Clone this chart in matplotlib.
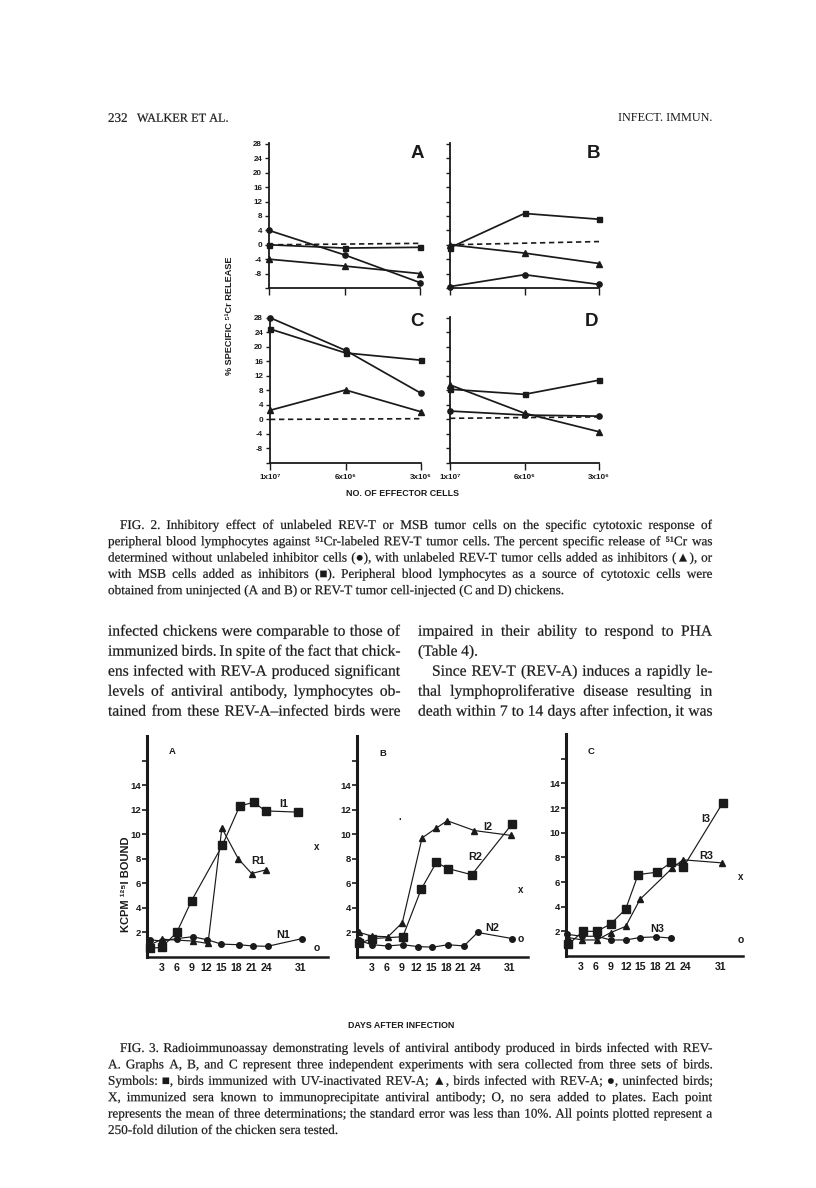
import matplotlib
matplotlib.use('Agg')
import matplotlib.pyplot as plt
from matplotlib.transforms import IdentityTransform, Affine2D
from matplotlib.textpath import TextPath
from matplotlib.patches import PathPatch
from matplotlib.font_manager import FontProperties

W, H = 816, 1188
INK = '#1a1a1a'
SERIF = ['Liberation Serif', 'DejaVu Sans']
SANS = ['Liberation Sans', 'DejaVu Sans']

# ---------------- Fig. 2 data ----------------
fig2_positions = [0, 1, 2]
fig2_xticklabels = ['1x10⁷', '6x10⁶', '3x10⁶']
fig2_yticks = [-12, -8, -4, 0, 4, 8, 12, 16, 20, 24, 28]
fig2_yticklabels = ['', '-8', '-4', '0', '4', '8', '12', '16', '20', '24', '28']
fig2_dash_x = [0, 2]

a_circles = [4.0, -2.8, -10.5]
a_triangles = [-4.0, -5.9, -8.0]
a_squares = [0.0, -0.9, -0.7]
a_dashed = [0.0, 0.4]
b_circles = [-11.6, -8.3, -11.0]
b_triangles = [0.0, -2.3, -5.2]
b_squares = [-0.8, 8.7, 7.1]
b_dashed = [0.0, 0.9]
c_circles = [28.0, 19.0, 7.2]
c_triangles = [2.5, 8.1, 2.1]
c_squares = [24.9, 18.3, 16.3]
c_dashed = [0.0, 0.2]
d_circles = [2.3, 1.2, 0.9]
d_triangles = [9.5, 1.7, -3.4]
d_squares = [8.3, 6.9, 10.8]
d_dashed = [0.3, 0.7]

# ---------------- Fig. 3 data ----------------
fig3_xticks = [3, 6, 9, 12, 15, 18, 21, 24, 31]
fig3_yticks = [2, 4, 6, 8, 10, 12, 14, 16]
fig3_yticklabels = ['2', '4', '6', '8', '10', '12', '14', '']

a_sq_days = [0.7, 3, 6, 9, 15.2, 18.7, 21.5, 23.9, 30.4]
a_sq_vals = [0.7, 0.8, 2.0, 4.6, 9.1, 12.3, 12.6, 11.9, 11.8]
a_tri_days = [0.7, 3, 9.2, 12.3, 15.1, 18.4, 21.1, 24.0]
a_tri_vals = [1.0, 1.45, 1.3, 1.1, 10.5, 8.0, 6.8, 7.1]
a_ci_days = [0.7, 3, 6, 9.2, 12.2, 15, 18.5, 21.3, 24.3, 31.3]
a_ci_vals = [1.4, 1.3, 1.5, 1.65, 1.4, 1.05, 1.0, 0.9, 0.87, 1.5]

b_sq_days = [0.5, 3, 9.3, 13, 16.1, 18.5, 23.3, 31.4]
b_sq_vals = [1.1, 1.5, 1.65, 5.5, 7.7, 7.2, 6.7, 10.8]
b_tri_days = [0.5, 3, 6.3, 9.2, 13.2, 16.1, 18.3, 23.8, 31.3]
b_tri_vals = [2.0, 1.7, 1.65, 2.8, 9.7, 10.5, 11.1, 10.3, 9.9]
b_ci_days = [0.5, 3, 6.2, 9.3, 12.3, 15.3, 18.5, 21.7, 24.5, 31.5]
b_ci_vals = [1.35, 1.0, 0.9, 1.0, 0.85, 0.8, 1.0, 0.9, 2.0, 1.5]

c_sq_days = [0.5, 3.4, 6.2, 9, 12, 14.5, 18.4, 21.2, 23.6, 31.5]
c_sq_vals = [0.95, 2.0, 2.0, 2.6, 3.8, 6.6, 6.8, 7.6, 7.2, 12.4]
c_tri_days = [0.4, 3.3, 6.2, 9, 12, 14.9, 21.3, 23.5, 31.4]
c_tri_vals = [1.5, 1.3, 1.3, 1.9, 2.4, 4.6, 7.1, 7.8, 7.55]
c_ci_days = [0.3, 3.3, 6.2, 9, 12, 14.9, 18.2, 21.2]
c_ci_vals = [1.75, 1.6, 1.6, 1.3, 1.3, 1.5, 1.55, 1.45]

# control points (X = immunized sera, O = no sera)
ctrl_days = [34.3, 33.3, 35.2]
ctrl_x_vals = [9.0, 5.45, 6.4]
ctrl_o_vals = [0.75, 1.47, 1.3]

# ---------------- text ----------------
header_left = ['232', 'WALKER ET AL.']
header_right = 'INFECT. IMMUN.'

fig2_caption = [
    'FIG. 2. Inhibitory effect of unlabeled REV-T or MSB tumor cells on the specific cytotoxic response of',
    'peripheral blood lymphocytes against ⁵¹Cr-labeled REV-T tumor cells. The percent specific release of ⁵¹Cr was',
    'determined without unlabeled inhibitor cells (●), with unlabeled REV-T tumor cells added as inhibitors (▲), or',
    'with MSB cells added as inhibitors (■). Peripheral blood lymphocytes as a source of cytotoxic cells were',
    'obtained from uninjected (A and B) or REV-T tumor cell-injected (C and D) chickens.',
]
body_left = [
    'infected chickens were comparable to those of',
    'immunized birds. In spite of the fact that chick-',
    'ens infected with REV-A produced significant',
    'levels of antiviral antibody, lymphocytes ob-',
    'tained from these REV-A–infected birds were',
]
body_right = [
    'impaired in their ability to respond to PHA',
    '(Table 4).',
    'Since REV-T (REV-A) induces a rapidly le-',
    'thal lymphoproliferative disease resulting in',
    'death within 7 to 14 days after infection, it was',
]
fig3_caption = [
    'FIG. 3. Radioimmunoassay demonstrating levels of antiviral antibody produced in birds infected with REV-',
    'A. Graphs A, B, and C represent three independent experiments with sera collected from three sets of birds.',
    'Symbols: ■, birds immunized with UV-inactivated REV-A; ▲, birds infected with REV-A; ●, uninfected birds;',
    'X, immunized sera known to immunoprecipitate antiviral antibody; O, no sera added to plates. Each point',
    'represents the mean of three determinations; the standard error was less than 10%. All points plotted represent a',
    '250-fold dilution of the chicken sera tested.',
]

# =====================================================
fig = plt.figure(figsize=(W / 100, H / 100), dpi=100)
fig.patch.set_facecolor('white')
IDT = IdentityTransform()
PX = 100 / 72.0


def rect(x0, y0, x1, y1):
    return [x0 / W, 1 - y1 / H, (x1 - x0) / W, (y1 - y0) / H]


def ptext(x, y, s, size, family=SANS, weight='bold', ha='center', va='center', rot=0):
    return fig.text(x, H - y, s, fontsize=size, family=family, fontweight=weight,
                    ha=ha, va=va, rotation=rot, color=INK, transform=IDT)


def text_line(s, x0, x1, yc, size, justify=True, family=SERIF):
    """Typeset one line word by word (glyph outlines, exact common baseline)."""
    words = s.split(' ')
    fp = FontProperties(family=family)
    while True:
        paths = [TextPath((0, 0), w, size=size, prop=fp) for w in words]
        ext = [p.get_extents() for p in paths]
        widths = [e.x1 * PX for e in ext]
        em = size * PX
        minimum = sum(widths) + 0.24 * em * (len(words) - 1)
        if not justify or minimum <= (x1 - x0) or size < 5:
            break
        size *= 0.99
    if justify and len(words) > 1:
        gap = (x1 - x0 - sum(widths)) / (len(words) - 1)
    else:
        gap = 0.27 * em
    x = x0
    ybase = H - (yc + 0.3 * em)
    for p, w in zip(paths, widths):
        tr = Affine2D().scale(PX).translate(x, ybase)
        patch = PathPatch(p, transform=tr, facecolor=INK, edgecolor=INK, lw=0.15)
        fig.add_artist(patch)
        x += w + gap


# ---------------- header ----------------
text_line('232', 108, 130, 118, 9.4, justify=False)
text_line(header_left[1], 137, 230, 118, 8.8, justify=False)
ptext(712, 118, header_right, 8.8, family=SERIF, weight='normal', ha='right')


# ---------------- Fig. 2 ----------------
def fig2_panel(r, circles, triangles, squares, dashed, letter, lpos, show_y, show_x):
    ax = fig.add_axes(rect(*r))
    ax.patch.set_alpha(0)
    ax.set_xlim(0, 2)
    ax.set_ylim(-12, 28.3)
    for s in ['top', 'right']:
        ax.spines[s].set_visible(False)
    for s in ['left', 'bottom']:
        ax.spines[s].set_linewidth(1.3)
        ax.spines[s].set_color(INK)
    kw = dict(color=INK, lw=1.25, clip_on=False, zorder=3)
    ax.plot(fig2_positions, circles, marker='o', ms=3.8, **kw)
    ax.plot(fig2_positions, triangles, marker='^', ms=4.0, **kw)
    ax.plot(fig2_positions, squares, marker='s', ms=3.6, **kw)
    ax.plot(fig2_dash_x, dashed, color=INK, lw=1.2, dashes=(3.2, 2.2), clip_on=False)
    ax.set_yticks(fig2_yticks)
    ax.set_yticklabels(fig2_yticklabels if show_y else [''] * len(fig2_yticks),
                       family=SANS, fontweight='bold', fontsize=5.8)
    ax.set_xticks(fig2_positions)
    ax.set_xticklabels(fig2_xticklabels if show_x else ['', '', ''],
                       family=SANS, fontweight='bold', fontsize=5.8)
    ax.tick_params(axis='y', direction='out', length=3, width=1, pad=2, colors=INK)
    ax.tick_params(axis='x', direction='out', length=5, width=1, pad=3, colors=INK)
    ptext(lpos[0], lpos[1], letter, 13.5)
    return ax


fig2_panel((269, 142.9, 420, 288), a_circles, a_triangles, a_squares, a_dashed, 'A', (417, 153), True, False)
fig2_panel((450, 142.9, 599, 288), b_circles, b_triangles, b_squares, b_dashed, 'B', (593, 153), False, False)
fig2_panel((270, 316.6, 421, 463), c_circles, c_triangles, c_squares, c_dashed, 'C', (417, 322), True, True)
fig2_panel((450, 316.6, 599, 463), d_circles, d_triangles, d_squares, d_dashed, 'D', (592, 322), False, True)

ptext(229, 316, '% SPECIFIC ⁵¹Cr RELEASE', 6.6, rot=90)
ptext(403, 494, 'NO. OF EFFECTOR CELLS', 6.4)

for i, line in enumerate(fig2_caption):
    x0 = 120 if i == 0 else 108
    text_line(line, x0, 712, 525 + i * 16.3, 9.5, justify=(i < len(fig2_caption) - 1))

# ---------------- body text ----------------
for i, line in enumerate(body_left):
    text_line(line, 108, 400, 631 + i * 20, 11.2)
for i, line in enumerate(body_right):
    x0 = 432 if i == 2 else 418
    text_line(line, x0, 712, 631 + i * 20, 11.2, justify=(i != 1))


# ---------------- Fig. 3 ----------------
def fig3_panel(r, xmax, sq, tri, ci, k, letter, labels):
    ax = fig.add_axes(rect(*r))
    ax.patch.set_alpha(0)
    ax.set_xlim(0, xmax)
    ax.set_ylim(0, 18)
    for s in ['top', 'right']:
        ax.spines[s].set_visible(False)
    ax.spines['left'].set_linewidth(2.2)
    ax.spines['bottom'].set_linewidth(1.8)
    for s in ['left', 'bottom']:
        ax.spines[s].set_color(INK)
    kw = dict(color=INK, lw=0.85, clip_on=False, zorder=3)
    ax.plot(sq[0], sq[1], marker='s', ms=5.2, **kw)
    ax.plot(tri[0], tri[1], marker='^', ms=5.0, **kw)
    ax.plot(ci[0], ci[1], marker='o', ms=4.0, **kw)
    ax.text(ctrl_days[k], ctrl_x_vals[k], 'x', fontsize=7, family=SANS, fontweight='bold',
            ha='center', va='center', color=INK)
    ax.text(ctrl_days[k], ctrl_o_vals[k], 'o', fontsize=7.5, family=SANS, fontweight='bold',
            ha='center', va='center', color=INK)
    ax.set_yticks(fig3_yticks)
    ax.set_yticklabels(fig3_yticklabels, family=SANS, fontweight='bold', fontsize=6.8)
    ax.set_xticks(fig3_xticks)
    ax.set_xticklabels([str(v) for v in fig3_xticks], family=SANS, fontweight='bold', fontsize=7.6)
    ax.tick_params(axis='y', direction='out', length=3.5, width=1.2, pad=1, colors=INK)
    ax.tick_params(axis='x', direction='out', length=0, pad=4, colors=INK)
    ptext(letter[1][0], letter[1][1], letter[0], 6.8)
    for s, (x, y) in labels:
        ptext(x, y, s, 7.8)
    return ax


fig3_panel((147, 736, 328, 957), 36.5, (a_sq_days, a_sq_vals), (a_tri_days, a_tri_vals),
           (a_ci_days, a_ci_vals), 0, ('A', (172, 752)),
           [('I1', (284, 804)), ('R1', (258, 861)), ('N1', (283, 935))])
fig3_panel((357, 736, 528, 957), 34.7, (b_sq_days, b_sq_vals), (b_tri_days, b_tri_vals),
           (b_ci_days, b_ci_vals), 1, ('B', (383, 754)),
           [('I2', (488, 827)), ('R2', (475, 857)), ('N2', (492, 928))])
fig3_panel((566, 734, 743, 956), 35.6, (c_sq_days, c_sq_vals), (c_tri_days, c_tri_vals),
           (c_ci_days, c_ci_vals), 2, ('C', (591, 751)),
           [('I3', (706, 819)), ('R3', (706, 856)), ('N3', (657, 929))])
ptext(400, 820, '·', 7)

ptext(126, 884, 'KCPM ¹²⁵I BOUND', 8.0, rot=90)
ptext(401, 1025, 'DAYS AFTER INFECTION', 6.4)

for i, line in enumerate(fig3_caption):
    x0 = 120 if i == 0 else 108
    text_line(line, x0, 712, 1048 + i * 16.4, 9.5, justify=(i < len(fig3_caption) - 1))

fig.savefig('out.png', dpi=100, facecolor='white')
